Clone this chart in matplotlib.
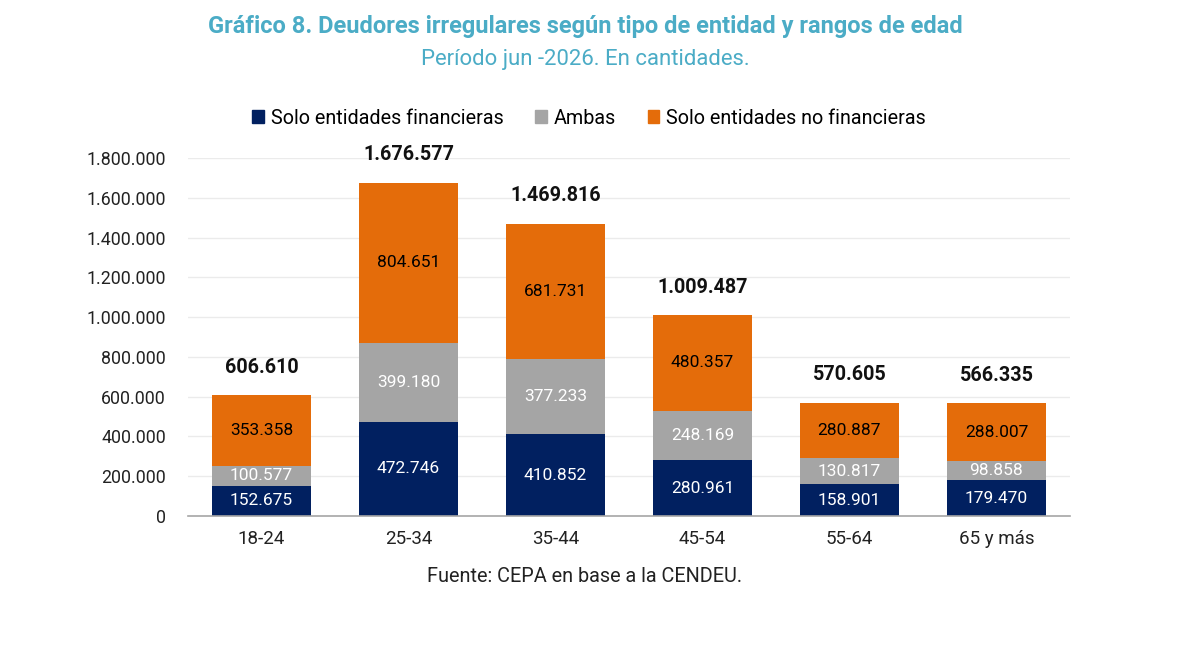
import matplotlib
matplotlib.use("Agg")
import matplotlib.pyplot as plt
from matplotlib.patches import Patch
import numpy as np

plt.rcParams['font.family'] = ['Roboto', 'DejaVu Sans']

categories = ["18-24", "25-34", "35-44", "45-54", "55-64", "65 y más"]
solo_financieras = [152675, 472746, 410852, 280961, 158901, 179470]
ambas = [100577, 399180, 377233, 248169, 130817, 98858]
solo_no_financieras = [353358, 804651, 681731, 480357, 280887, 288007]
series_names = ["Solo entidades financieras", "Ambas", "Solo entidades no financieras"]
yticks = [0, 200000, 400000, 600000, 800000, 1000000, 1200000, 1400000, 1600000, 1800000]

c_navy = "#012060"
c_gray = "#A5A5A5"
c_orange = "#E46C0A"
title_color = "#4BACC6"

def fmt(v):
    return f"{v:,.0f}".replace(",", ".")

fig = plt.figure(figsize=(11.93, 6.53), dpi=100)
ax = fig.add_axes([188/1193, 1 - 516/653, 882/1193, (516 - 158)/653])

x = np.arange(len(categories))
w = 0.667
s1 = np.array(solo_financieras)
s2 = np.array(ambas)
s3 = np.array(solo_no_financieras)

ax.bar(x, s1, w, color=c_navy, zorder=3)
ax.bar(x, s2, w, bottom=s1, color=c_gray, zorder=3)
ax.bar(x, s3, w, bottom=s1 + s2, color=c_orange, zorder=3)

fs = 12.5
for i in range(len(x)):
    ax.text(x[i], s1[i] / 2, fmt(s1[i]), ha='center', va='center', color='white', fontsize=fs, zorder=4)
    ax.text(x[i], s1[i] + s2[i] / 2, fmt(s2[i]), ha='center', va='center', color='white', fontsize=fs, zorder=4)
    ax.text(x[i], s1[i] + s2[i] + s3[i] / 2, fmt(s3[i]), ha='center', va='center', color='black', fontsize=fs, zorder=4)
    total = s1[i] + s2[i] + s3[i]
    ax.annotate(fmt(total), (x[i], total), xytext=(0, 20), textcoords='offset points',
                ha='center', va='center', fontsize=14.2, fontweight='bold', color='#111111', zorder=4)

ax.set_xlim(-0.5, len(categories) - 0.5)
ax.set_ylim(0, 1800000)
ax.set_yticks(yticks)
ax.set_yticklabels([fmt(v) for v in yticks], fontsize=12.8, color='#222222')
ax.set_xticks(x)
ax.set_xticklabels(categories, fontsize=13.5, color='#222222')
ax.tick_params(axis='both', length=0)
ax.tick_params(axis='y', pad=16)
ax.tick_params(axis='x', pad=10)
ax.grid(axis='y', color='#EBEBEB', linewidth=1, zorder=0)
for side in ['top', 'right', 'left']:
    ax.spines[side].set_visible(False)
ax.spines['bottom'].set_color('#A6A6A6')
ax.spines['bottom'].set_linewidth(1.2)
ax.spines['bottom'].set_zorder(5)

handles = [Patch(color=c_navy), Patch(color=c_gray), Patch(color=c_orange)]
fig.legend(handles, series_names, loc='center', bbox_to_anchor=(589/1193, 1 - 118/653), ncol=3,
           frameon=False, fontsize=14.2, handlelength=0.6, handleheight=0.6, handletextpad=0.35,
           columnspacing=1.6)

fig.text(585/1193, 1 - 27/653, "Gráfico 8. Deudores irregulares según tipo de entidad y rangos de edad",
         ha='center', va='center', fontsize=17, fontweight='bold', color=title_color)
fig.text(585/1193, 1 - 59/653, "Período jun -2026. En cantidades.",
         ha='center', va='center', fontsize=15.9, color=title_color)
fig.text(585/1193, 1 - 576/653, "Fuente: CEPA en base a la CENDEU.",
         ha='center', va='center', fontsize=14.3, color='#222222')

fig.savefig("out.png", dpi=100, facecolor='white')
